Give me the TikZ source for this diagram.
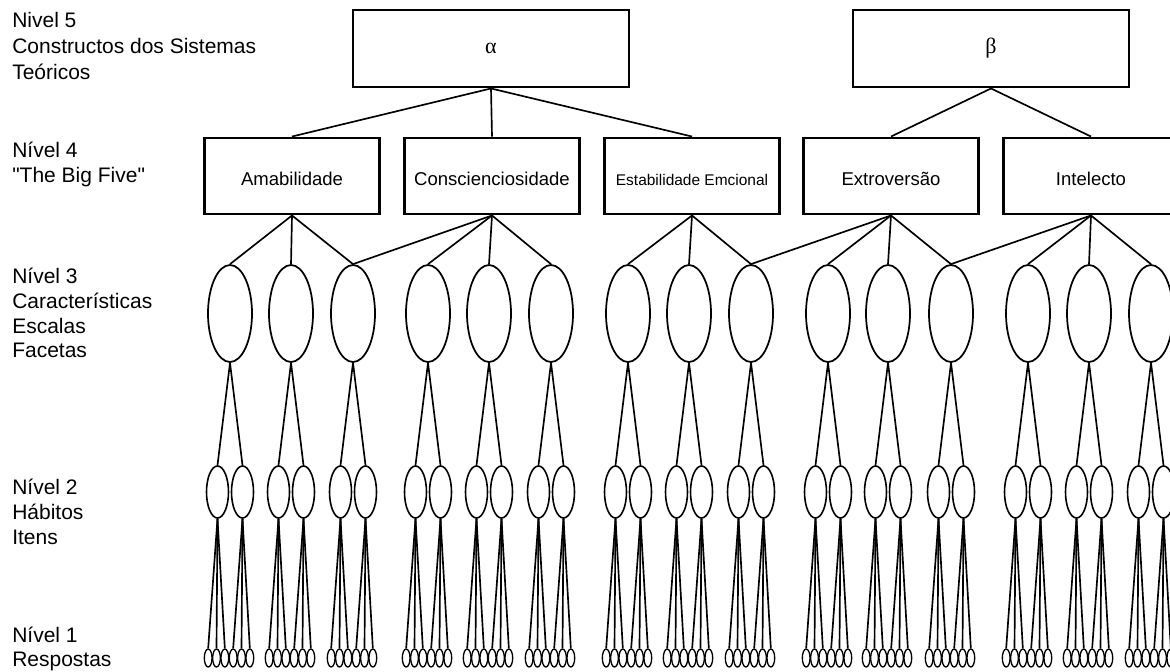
\documentclass[tikz,border=0pt]{standalone}
\usepackage{fontspec}
\setmainfont{Liberation Sans}
\newfontfamily\greekfont{Liberation Serif}
\usetikzlibrary{shapes.geometric}
\begin{document}
\begin{tikzpicture}[x=0.75pt,y=-0.75pt,
  lbl/.style={anchor=base west, inner sep=0pt, font=\fontsize{15.75}{18}\selectfont},
  topbox/.style={draw, line width=2.2pt, rectangle, minimum width=207pt, minimum height=57.75pt, inner sep=0pt,
    font=\greekfont\fontsize{16.5}{18}\selectfont},
  bigfive/.style={draw, line width=2.2pt, rectangle, minimum width=131.25pt, minimum height=57pt, inner sep=0pt,
    text height=13.5pt, text depth=0pt, font=\fontsize{13.9}{16}\selectfont},
  conn/.style={line width=1.25pt},
  facet/.style={draw, ellipse, line width=1.3pt, minimum width=33pt, minimum height=72.75pt, inner sep=0pt},
  habit/.style={draw, ellipse, line width=1.2pt, minimum width=16.5pt, minimum height=39pt, inner sep=0pt},
  resp/.style={draw, ellipse, line width=1.0pt, minimum width=5.8pt, minimum height=13.5pt, inner sep=0pt}]
\fill[white] (0,0) rectangle (1170,671);
\useasboundingbox (0,0) rectangle (1170,671);

% level labels
\node[lbl] (t5a) at (12,27) {Nivel 5};
\node[lbl] (t5b) at (12,53) {Constructos dos Sistemas};
\node[lbl] (t5c) at (12,79) {Teóricos};
\node[lbl] (t4a) at (12,157) {Nível 4};
\node[lbl] (t4b) at (12,182) {\textquotedbl The Big Five\textquotedbl};
\node[lbl] (t3a) at (12,283) {Nível 3};
\node[lbl] (t3b) at (12,308) {Características};
\node[lbl] (t3c) at (12,333) {Escalas};
\node[lbl] (t3d) at (12,357) {Facetas};
\node[lbl] (t2a) at (12,494) {Nível 2};
\node[lbl] (t2b) at (12,519) {Hábitos};
\node[lbl] (t2c) at (12,544) {Itens};
\node[lbl] (t1a) at (12,642) {Nível 1};
\node[lbl] (t1b) at (12,666) {Respostas};

% level 5
\node[topbox] (alpha) at (491,48.5) {α};
\node[topbox] (beta) at (991,48.5) {β};

% level 4
\node[bigfive] (b1) at (292,176) {Amabilidade};
\node[bigfive] (b2) at (492,176) {Conscienciosidade};
\node[bigfive, font=\fontsize{11.6}{14}\selectfont] (b3) at (692,176) {Estabilidade Emcional};
\node[bigfive] (b4) at (891,176) {Extroversão};
\node[bigfive] (b5) at (1091,176) {Intelecto};

\foreach \b in {b1,b2,b3} \draw[conn] (alpha.south) -- (\b.north);
\foreach \b in {b4,b5} \draw[conn] (beta.south) -- (\b.north);

% levels 3, 2, 1
\foreach \x [count=\i] in {230,291,353,428,489,551,628,689,751,828,888,951,1028,1089,1151} {
  \node[facet] (c\i) at (\x,313.5) {};
  \foreach \s [count=\j] in {-12.5,12.5} {
    \node[habit] (h\i-\j) at ({\x+(\s)},492) {};
    \draw[conn] (c\i.south) -- (h\i-\j.north);
    \foreach \t [count=\k] in {-8.33,0,8.33} {
      \node[resp] (r\i-\j-\k) at ({\x+(\s)+(\t)-1},658) {};
      \draw[conn] (h\i-\j.south) -- (r\i-\j-\k.north);
    }
  }
}

% level 4 to level 3
\foreach \k in {1,...,5} {
  \pgfmathtruncatemacro{\ca}{3*\k-2}
  \pgfmathtruncatemacro{\cb}{3*\k-1}
  \pgfmathtruncatemacro{\cc}{3*\k}
  \draw[conn] (b\k.south) -- (c\ca.north);
  \draw[conn] (b\k.south) -- (c\cb.north);
  \draw[conn] (b\k.south) -- (c\cc.north);
}
\draw[conn] (b2.south) -- (c3.north);
\draw[conn] (b4.south) -- (c9.north);
\draw[conn] (b5.south) -- (c12.north);
\end{tikzpicture}
\end{document}
